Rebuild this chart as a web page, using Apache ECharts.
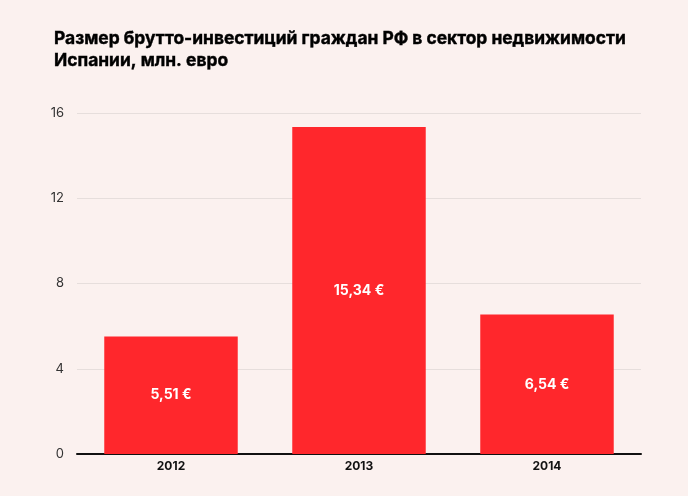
<!DOCTYPE html>
<html lang="ru">
<head>
<meta charset="utf-8">
<title>Размер брутто-инвестиций</title>
<style>
html, body {
  margin: 0;
  background: #FBF1EF;
}
#chart {
  width: 688px;
  height: 496px;
}
</style>
</head>
<body>
<div id="chart"></div>
<script src="https://cdn.jsdelivr.net/npm/echarts@6/dist/echarts.min.js"></script>
<script>
var years = ['2012', '2013', '2014'];
var values = [5.51, 15.34, 6.54];
var yTicks = [0, 4, 8, 12, 16];

var chart = echarts.init(document.getElementById('chart'));
chart.setOption({
  backgroundColor: '#FBF1EF',
  animation: false,
  textStyle: { fontFamily: 'Inter' },
  title: {
    left: 54,
    top: 28,
    padding: 0,
    text: 'Размер брутто-инвестиций граждан РФ в сектор недвижимости\nИспании, млн. евро',
    textStyle: {
      fontFamily: 'Inter',
      fontSize: 17.4,
      fontWeight: 'bold',
      color: '#000',
      lineHeight: 22,
      textBorderColor: '#000',
      textBorderWidth: 0.4
    }
  },
  grid: {
    left: 77,
    right: 47,
    top: 113,
    bottom: 42
  },
  xAxis: {
    type: 'category',
    data: years,
    axisTick: { show: false },
    axisLine: { lineStyle: { color: '#111', width: 2 } },
    axisLabel: {
      color: '#111',
      fontWeight: 'bold',
      fontSize: 12,
      margin: 6
    }
  },
  yAxis: {
    type: 'value',
    min: yTicks[0],
    max: yTicks[yTicks.length - 1],
    interval: 4,
    axisLabel: {
      color: '#333',
      fontSize: 13,
      margin: 13
    },
    splitLine: { lineStyle: { color: '#E6DEDC' } }
  },
  series: [{
    type: 'bar',
    data: values,
    barCategoryGap: '29%',
    itemStyle: { color: '#FF272C' },
    label: {
      show: true,
      position: 'inside',
      color: '#fff',
      fontWeight: 'bold',
      fontSize: 14,
      formatter: function (p) {
        return p.value.toFixed(2).replace('.', ',') + ' €';
      }
    }
  }]
});
</script>
</body>
</html>
